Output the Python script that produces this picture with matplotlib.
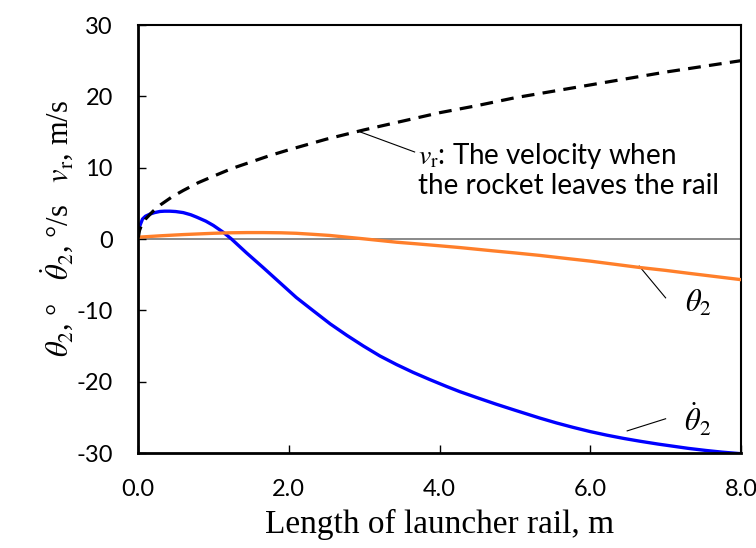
import matplotlib
matplotlib.use("Agg")
import matplotlib.pyplot as plt

plt.rcParams['mathtext.fontset'] = 'stix'
plt.rcParams['font.family'] = ['Lato', 'DejaVu Sans']

# ---- data ----
vr_x = [0, 0.02, 0.05, 0.1, 0.2, 0.3, 0.45, 0.6, 0.8, 1.0, 1.25, 1.5, 1.75, 2.0, 2.5, 3.0, 3.5,
        4.0, 4.5, 5.0, 5.5, 6.0, 6.5, 7.0, 7.5, 8.0]
vr_y = [0, 1.2, 2.0, 2.8, 3.9, 4.8, 5.9, 6.8, 7.9, 8.8, 9.9, 10.8, 11.7, 12.5, 14.0, 15.3, 16.5,
        17.7, 18.7, 19.8, 20.7, 21.6, 22.5, 23.4, 24.2, 25.0]

thd_x = [0, 0.03, 0.06, 0.1, 0.16, 0.22, 0.29, 0.35, 0.42, 0.5, 0.6, 0.7, 0.78, 0.9, 1.0, 1.13, 1.24,
         1.44, 1.66, 1.88, 2.1, 2.33, 2.55, 2.77, 2.99, 3.21, 3.43, 3.65, 3.87, 4.1, 4.27, 4.5,
         4.75, 5.0, 5.33, 5.55, 5.77, 6.0, 6.22, 6.44, 6.66, 6.9, 7.1, 7.3, 7.54, 7.75, 8.0]
thd_y = [1.0, 2.0, 2.8, 3.2, 3.5, 3.7, 3.86, 3.9, 3.9, 3.85, 3.7, 3.4, 3.06, 2.5, 1.9, 0.95, 0.0,
         -1.95, -4.0, -6.1, -8.2, -10.1, -11.9, -13.5, -15.0, -16.4, -17.6, -18.7, -19.7, -20.7, -21.4, -22.25,
         -23.15, -24.0, -25.1, -25.78, -26.4, -27.0, -27.5, -27.95, -28.35, -28.75, -29.05, -29.35, -29.65, -29.88, -30.1]

th_x = [0, 0.3, 0.6, 1.0, 1.21, 1.45, 1.66, 1.9, 2.1, 2.3, 2.54, 2.75, 2.99, 3.2, 3.43, 3.7, 4.0, 4.27,
        4.7, 5.0, 5.33, 5.66, 6.0, 6.33, 6.66, 7.0, 7.3, 7.65, 8.0]
th_y = [0.25, 0.45, 0.62, 0.8, 0.87, 0.9, 0.9, 0.87, 0.8, 0.67, 0.5, 0.28, 0.03, -0.2, -0.45, -0.68, -0.95, -1.2,
        -1.65, -1.95, -2.3, -2.7, -3.1, -3.55, -4.0, -4.4, -4.8, -5.25, -5.7]

x_ticks = [0, 2, 4, 6, 8]
x_tick_labels = ["0.0", "2.0", "4.0", "6.0", "8.0"]
y_ticks = [-30, -20, -10, 0, 10, 20, 30]
y_tick_labels = ["-30", "-20", "-10", "0", "10", "20", "30"]

fig = plt.figure(figsize=(7.56, 5.48), dpi=100)
ax = fig.add_axes([138/756, 1-453/548, (741-138)/756, (453-25)/548])

ax.axhline(0, color='#808080', lw=1.3, zorder=1)
ax.plot(thd_x, thd_y, color='#0000FF', lw=2.4, zorder=2)
ax.plot(th_x, th_y, color='#FF7F2A', lw=2.4, zorder=3)
ax.plot(vr_x, vr_y, color='black', lw=2.3, linestyle=(0, (4, 2.6)), zorder=4)

ax.set_xlim(0, 8)
ax.set_ylim(-30, 30)
ax.set_xticks(x_ticks)
ax.set_xticklabels(x_tick_labels)
ax.set_yticks(y_ticks)
ax.set_yticklabels(y_tick_labels)
ax.tick_params(direction='in', length=6, width=1, labelsize=17, colors='black')
ax.tick_params(axis='x', pad=19)
ax.tick_params(axis='y', pad=18)
for s in ax.spines.values():
    s.set_linewidth(1.5)
    s.set_color('black')
ax.spines['left'].set_linewidth(2.0)
ax.spines['bottom'].set_linewidth(2.0)

serif = ['Liberation Serif', 'DejaVu Serif']
ax.set_xlabel("Length of launcher rail, m", family=serif, fontsize=24, labelpad=6)
fig.text(57/756, 1-228/548, r"$\theta_2$, °   $\dot{\theta}_2$, °/s   $v_{\mathrm{r}}$, m/s",
         family=serif, fontsize=22, rotation=90, ha='center', va='center')

# annotations
ax.plot([2.95, 3.67], [15.0, 12.2], color='black', lw=0.8)
ax.text(3.71, 11.7, r"$v_{\mathrm{r}}$: The velocity when", fontsize=20, ha='left', va='center')
ax.text(3.71, 7.4, "the rocket leaves the rail", fontsize=20, ha='left', va='center')

ax.plot([6.65, 7.0], [-3.8, -8.25], color='black', lw=0.8)
ax.text(7.43, -8.9, r"$\theta_2$", fontsize=22, ha='center', va='center')

ax.plot([6.49, 7.0], [-26.9, -25.2], color='black', lw=0.8)
ax.text(7.43, -25.3, r"$\dot{\theta}_2$", fontsize=22, ha='center', va='center')

fig.savefig("out.png", dpi=100)
